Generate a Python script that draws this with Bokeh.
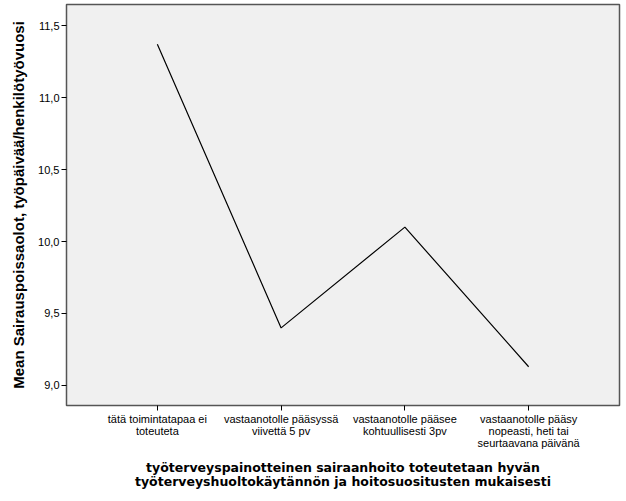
from bokeh.plotting import figure
from bokeh.models import FixedTicker, Range1d
from bokeh.embed import file_html
from bokeh.resources import INLINE

categories = [
    "tätä toimintatapaa ei\ntoteuteta",
    "vastaanotolle pääsyssä\nviivettä 5 pv",
    "vastaanotolle pääsee\nkohtuullisesti 3pv",
    "vastaanotolle pääsy\nnopeasti, heti tai\nseurtaavana päivänä",
]
means = [11.37, 9.40, 10.10, 9.13]
y_ticks = [9.0, 9.5, 10.0, 10.5, 11.0, 11.5]
y_tick_labels = ["9,0", "9,5", "10,0", "10,5", "11,0", "11,5"]
x_title = "työterveyspainotteinen sairaanhoito toteutetaan hyvän\ntyöterveyshuoltokäytännön ja hoitosuositusten mukaisesti"
y_title = "Mean Sairauspoissaolot, työpäivää/henkilötyövuosi"

xs = list(range(1, len(categories) + 1))

p = figure(width=626, height=501, output_backend="svg", toolbar_location=None,
           x_range=Range1d(0.266, 4.734), y_range=Range1d(8.861, 11.646),
           min_border_left=66, min_border_right=7, min_border_top=4, min_border_bottom=96)
p.background_fill_color = "#f0f0f0"
p.border_fill_color = "white"
p.outline_line_color = "#555555"
p.outline_line_width = 1.5
p.xgrid.visible = False
p.ygrid.visible = False

p.line(xs, means, line_color="black", line_width=1.2)

for ax in (p.xaxis[0], p.yaxis[0]):
    ax.axis_line_color = "#555555"
    ax.major_tick_line_color = "black"
    ax.major_tick_in = 0
    ax.major_tick_out = 5
    ax.minor_tick_line_color = None
    ax.major_label_text_font = "Liberation Sans"
    ax.major_label_text_font_size = "11px"
    ax.major_label_text_color = "black"
    ax.axis_label_text_font_style = "bold"
    ax.axis_label_text_color = "black"

p.xaxis.ticker = FixedTicker(ticks=xs)
p.xaxis.major_label_overrides = {x: c for x, c in zip(xs, categories)}
p.xaxis.major_label_standoff = 2
p.xaxis.major_label_text_line_height = 1.0
p.xaxis.axis_label = x_title
p.xaxis.axis_label_text_font = "DejaVu Sans"
p.xaxis.axis_label_text_font_size = "12.5px"
p.xaxis.axis_label_text_line_height = 0.95
p.xaxis.axis_label_standoff = 8

p.yaxis.ticker = FixedTicker(ticks=y_ticks)
p.yaxis.major_label_overrides = {t: l for t, l in zip(y_ticks, y_tick_labels)}
p.yaxis.major_label_standoff = 2
p.yaxis.axis_label = y_title
p.yaxis.axis_label_text_font = "Liberation Sans"
p.yaxis.axis_label_text_font_size = "15px"
p.yaxis.axis_label_standoff = 8

open("out.html", "w").write(file_html(p, INLINE))
